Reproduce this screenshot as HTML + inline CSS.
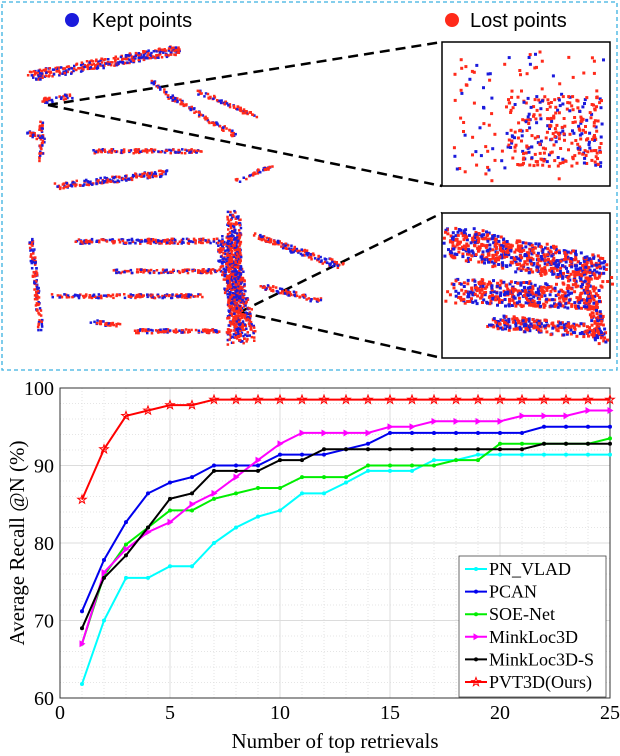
<!DOCTYPE html>
<html><head><meta charset="utf-8"><style>
body{margin:0;background:#fff;}
svg{display:block;font-family:"Liberation Serif",serif;}
</style></head><body>
<svg width="620" height="756" viewBox="0 0 620 756">
<g id="top">
<rect x="2" y="2" width="615" height="368" fill="#fff" stroke="#3ab0e0" stroke-width="1.3" stroke-dasharray="4,3"/>
<circle cx="72" cy="20" r="7" fill="#1b1bdc"/>
<text x="92" y="27" font-size="20" font-family="Liberation Sans,sans-serif">Kept points</text>
<circle cx="452" cy="20" r="7" fill="#ff2a1a"/>
<text x="470" y="27" font-size="20" font-family="Liberation Sans,sans-serif">Lost points</text>
<rect x="442" y="42" width="168" height="144" fill="none" stroke="#000" stroke-width="1.5"/>
<rect x="442" y="213" width="168" height="145" fill="none" stroke="#000" stroke-width="1.5"/>
<g stroke="#000" stroke-width="2.5" stroke-dasharray="10,6">
<line x1="48" y1="105" x2="442" y2="42"/><line x1="48" y1="105" x2="442" y2="186"/>
<line x1="240" y1="312" x2="442" y2="213"/><line x1="240" y1="312" x2="442" y2="358"/>
</g>
<g id="dots"></g>
</g>
<g id="chart"></g>
</svg>
<script>
const categories=[1,2,3,4,5,6,7,8,9,10,11,12,13,14,15,16,17,18,19,20,21,22,23,24,25];
const seriesNames=["PN_VLAD","PCAN","SOE-Net","MinkLoc3D","MinkLoc3D-S","PVT3D(Ours)"];
const pnvlad=[61.8,70,75.5,75.5,77,77,80,82,83.4,84.2,86.4,86.4,87.8,89.3,89.3,89.3,90.7,90.7,91.4,91.4,91.4,91.4,91.4,91.4,91.4];
const pcan=[71.2,77.8,82.7,86.4,87.8,88.5,90,90,90,91.4,91.4,91.4,92.1,92.8,94.2,94.2,94.2,94.2,94.2,94.2,94.2,95,95,95,95];
const soenet=[67,75.8,79.8,82,84.2,84.2,85.7,86.4,87.1,87.1,88.5,88.5,88.5,90,90,90,90,90.7,90.7,92.8,92.8,92.8,92.8,92.8,93.5];
const minkloc=[67,76.2,79.2,81.4,82.7,85,86.4,88.5,90.7,92.8,94.2,94.2,94.2,94.2,95,95,95.7,95.7,95.7,95.7,96.4,96.4,96.4,97.1,97.1];
const minklocS=[69,75.5,78.4,82,85.7,86.4,89.3,89.3,89.3,90.7,90.7,92.1,92.1,92.1,92.1,92.1,92.1,92.1,92.1,92.1,92.1,92.8,92.8,92.8,92.8];
const pvt3d=[85.6,92.1,96.4,97.1,97.8,97.8,98.5,98.5,98.5,98.5,98.5,98.5,98.5,98.5,98.5,98.5,98.5,98.5,98.5,98.5,98.5,98.5,98.5,98.5,98.5];
const xTicks=[0,5,10,15,20,25];
const yTicks=[60,70,80,90,100];
const NS="http://www.w3.org/2000/svg";
const X0=60,X1=610,Y0=698,Y1=388;
const sx=v=>X0+(v-0)/25*(X1-X0);
const sy=v=>Y0-(v-60)/40*(Y0-Y1);
function mk(tag,attrs,parent){const e=document.createElementNS(NS,tag);for(const k in attrs)e.setAttribute(k,attrs[k]);parent.appendChild(e);return e;}
const chart=document.getElementById('chart');
const bg=mk('rect',{x:X0,y:Y1,width:X1-X0,height:Y0-Y1,fill:'#fff'},chart);


for(let i=1;i<25;i++){if(i%5===0)continue;const l=mk('line',{x1:sx(i),x2:sx(i),y1:Y1,y2:Y0,stroke:'#ddd','stroke-width':0.8,'stroke-dasharray':'1,2'},chart);

}
for(let v=62;v<100;v+=2){if(v%10===0)continue;const l=mk('line',{x1:X0,x2:X1,y1:sy(v),y2:sy(v),stroke:'#ddd','stroke-width':0.8,'stroke-dasharray':'1,2'},chart);

}
xTicks.forEach(t=>{const l=mk('line',{x1:sx(t),x2:sx(t),y1:Y1,y2:Y0,stroke:'#dcdcdc','stroke-width':1},chart);


const tx=mk('text',{x:sx(t),y:Y0+21,'font-size':20,'text-anchor':'middle'},chart);tx.textContent=t;

});
yTicks.forEach(t=>{const l=mk('line',{x1:X0,x2:X1,y1:sy(t),y2:sy(t),stroke:'#dcdcdc','stroke-width':1},chart);


const tx=mk('text',{x:X0-6,y:sy(t)+7,'font-size':20,'text-anchor':'end'},chart);tx.textContent=t;

});
const fr=mk('rect',{x:X0,y:Y1,width:X1-X0,height:Y0-Y1,fill:'none',stroke:'#333','stroke-width':1},chart);


const xl=mk('text',{x:335,y:748,'font-size':21,'text-anchor':'middle'},chart);xl.textContent='Number of top retrievals';


const yl=mk('text',{x:0,y:0,'font-size':21,'text-anchor':'middle',transform:'translate(24,543) rotate(-90)'},chart);yl.textContent='Average Recall @N (%)';


const series=[pnvlad,pcan,soenet,minkloc,minklocS,pvt3d];
const colors=['#00ffff','#0000ee','#00ee00','#ff00ff','#000000','#ff0000'];
const markers=['dot','dot','dot','tri','dot','star'];
function marker(type,x,y,c,g){
 if(type==='dot'){return mk('circle',{cx:x,cy:y,r:2,fill:c},g);}
 if(type==='tri'){return mk('path',{d:`M${x-2.5},${y-3.5}L${x+3.5},${y}L${x-2.5},${y+3.5}Z`,fill:c},g);}
 let p='';for(let i=0;i<10;i++){const r=i%2?1.8:4.5;const a=-Math.PI/2+i*Math.PI/5;p+=(i?'L':'M')+(x+r*Math.cos(a)).toFixed(1)+','+(y+r*Math.sin(a)).toFixed(1);}
 return mk('path',{d:p+'Z',fill:'none',stroke:c,'stroke-width':1},g);
}
series.forEach((s,i)=>{
 const g=mk('g',{},chart);
 
 
 const pts=s.map((v,j)=>sx(categories[j]).toFixed(1)+','+sy(v).toFixed(1)).join(' ');
 const pl=mk('polyline',{points:pts,fill:'none',stroke:colors[i],'stroke-width':2},g);
 
 
 s.forEach((v,j)=>{const m=marker(markers[i],sx(categories[j]),sy(v),colors[i],g);
 
 });
});
const lg=mk('g',{},chart);


mk('rect',{x:459,y:556,width:147,height:141,fill:'#fff',stroke:'#444','stroke-width':0.8},lg);
seriesNames.forEach((n,i)=>{const y=569+i*22.6;
 const e=mk('g',{},lg);
 
 
 mk('line',{x1:465,x2:487,y1:y,y2:y,stroke:colors[i],'stroke-width':2},e);
 marker(markers[i],476,y,colors[i],e);
 const t=mk('text',{x:489,y:y+6,'font-size':18},e);t.textContent=n;});
// decorative point cloud (not chart data)
let seed=7;const rnd=()=>{seed=(seed*16807)%2147483647;return seed/2147483647;};
const dots=document.getElementById('dots');
const streaks=[[30,75,180,48,9],[40,100,70,95,5],[55,185,165,172,6],[90,150,200,150,4],[170,95,235,135,4],[195,90,255,115,4],[150,80,175,100,4],[235,180,270,165,4],[25,130,45,140,4],[40,120,40,160,4],
[30,240,40,330,5],[75,240,230,240,5],[110,270,220,270,4],[50,295,200,295,4],[130,330,230,330,4],[255,235,340,265,6],[260,285,320,300,5],[225,240,245,335,20],[233,215,233,340,14],[90,320,120,325,4]];
function draw(x1,y1,x2,y2,w,dens,sz){const n=Math.round(Math.hypot(x2-x1,y2-y1)*w/dens);
 for(let k=0;k<n;k++){const t=rnd();const x=x1+(x2-x1)*t+(rnd()-0.5)*w;const y=y1+(y2-y1)*t+(rnd()-0.5)*w;
 const c=rnd()<0.6?'#ff2a1a':'#1b1bdc';
 mk('rect',{x:x.toFixed(1),y:y.toFixed(1),width:sz,height:sz,fill:c},dots);}}
streaks.forEach(s=>draw(...s,4,2.5));
// inset 1: scattered field + dense cluster
for(let k=0;k<110;k++){const x=452+rnd()*150,y=50+rnd()*130;mk('rect',{x:x.toFixed(1),y:y.toFixed(1),width:3,height:3,fill:rnd()<0.65?'#ff2a1a':'#1b1bdc'},dots);}
for(let k=0;k<260;k++){const x=505+rnd()*95,y=95+rnd()*70;mk('rect',{x:x.toFixed(1),y:y.toFixed(1),width:3,height:3,fill:rnd()<0.7?'#ff2a1a':'#1b1bdc'},dots);}
// inset 2: dotted rows
draw(450,240,600,270,30,7,3);draw(455,290,590,295,25,8,3);draw(590,290,600,340,14,6,3);draw(490,320,595,330,14,7,3);
</script>
</body></html>
